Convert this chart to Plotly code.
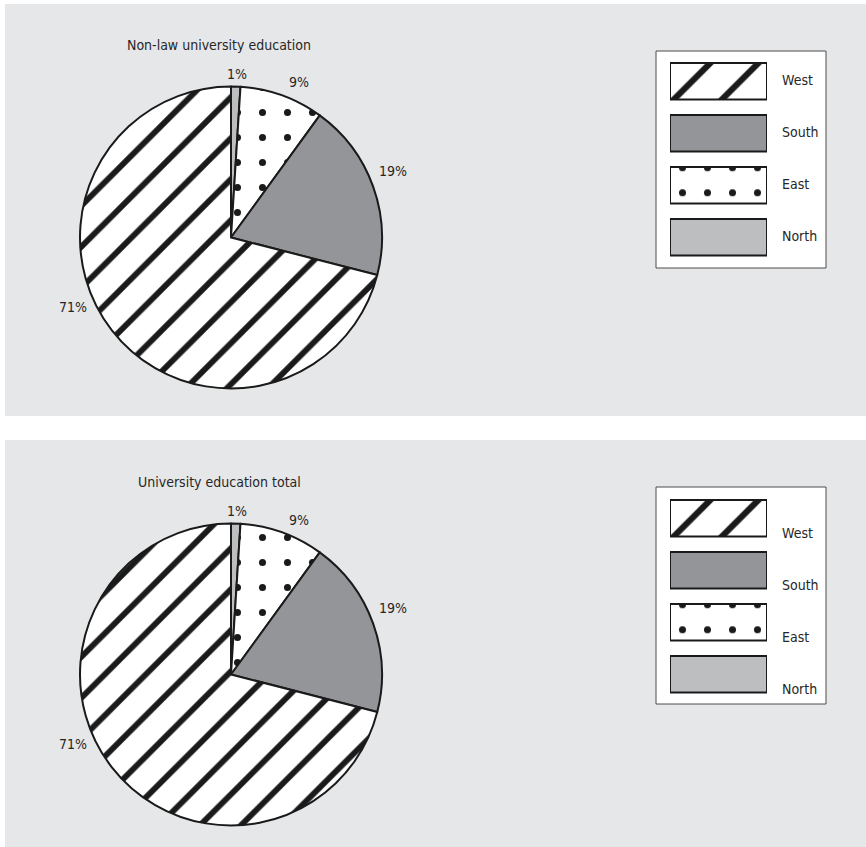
import plotly.graph_objects as go

W, H = 866, 847

# Shares by region (percent), listed clockwise from 12 o'clock
regions = ["North", "East", "South", "West"]
nonlaw_share = [1, 9, 19, 71]
total_share = [1, 9, 19, 71]

legend_regions = ["West", "South", "East", "North"]
panel_titles = ["Non-law university education", "University education total"]

# ---- styling -------------------------------------------------------------
BG = "#e6e7e8"
INK = "#1a1a1a"
TEXT = "#262626"
FONT = "DejaVu Sans Condensed, Liberation Sans Narrow, sans-serif"
FS = 14

slice_fill = {"West": BG, "South": "#939598", "East": BG, "North": "#bcbec0"}
swatch_fill = {"West": "white", "South": "#939598", "East": "white", "North": "#bcbec0"}
hatch = {"West": "/", "South": "", "East": ".", "North": ""}
pie_hatch_size = {"West": 29, "South": 8, "East": 25, "North": 8}
pie_hatch_solidity = {"West": 0.2, "South": 0.3, "East": 0.062, "North": 0.3}
key_hatch_size = {"West": 34, "South": 8, "East": 25, "North": 8}
key_hatch_solidity = {"West": 0.18, "South": 0.3, "East": 0.062, "North": 0.3}

# value-label offsets from the pie centre, in pixels
label_offset = {"North": (6, -164), "East": (68, -155), "South": (162, -67), "West": (-158, 69)}


def px(x):
    return x / W


def py(y):
    return 1 - y / H


panels = [
    dict(values=nonlaw_share, title=panel_titles[0], top=4, bottom=416,
         cx=231, cy=237.5, r=151, title_y=45,
         box=(656, 51, 826, 268), swatch_top=63, label_dy=-1),
    dict(values=total_share, title=panel_titles[1], top=440, bottom=847,
         cx=231, cy=674.5, r=151, title_y=482,
         box=(656, 487, 826, 704), swatch_top=500, label_dy=15),
]

fig = go.Figure()
shapes = []
annotations = []
layout_axes = {}

PITCH = 52.0
SWATCH_H = 36.5

for i, p in enumerate(panels):
    # panel background
    shapes.append(dict(type="rect", xref="paper", yref="paper", layer="below",
                       x0=px(5), x1=1, y0=py(p["bottom"]), y1=py(p["top"]),
                       fillcolor=BG, line=dict(width=0)))
    # legend box
    bx0, by0, bx1, by1 = p["box"]
    shapes.append(dict(type="rect", xref="paper", yref="paper", layer="below",
                       x0=px(bx0), x1=px(bx1), y0=py(by1), y1=py(by0),
                       fillcolor="white", line=dict(color="#4d4d4d", width=1)))

    # pie
    cx, cy, r = p["cx"], p["cy"], p["r"]
    fig.add_trace(go.Pie(
        labels=regions, values=p["values"], sort=False, direction="clockwise",
        rotation=0, textinfo="none", hoverinfo="label+percent", showlegend=False,
        domain=dict(x=[px(cx - r), px(cx + r)], y=[py(cy + r), py(cy - r)]),
        marker=dict(
            colors=[slice_fill[k] for k in regions],
            line=dict(color=INK, width=2),
            pattern=dict(
                shape=[hatch[k] for k in regions],
                size=[pie_hatch_size[k] for k in regions],
                solidity=[pie_hatch_solidity[k] for k in regions],
                fgcolor=INK, fgopacity=1, fillmode="replace",
            ),
        ),
    ))

    total = sum(p["values"])
    for k, v in zip(regions, p["values"]):
        dx, dy = label_offset[k]
        annotations.append(dict(
            xref="paper", yref="paper", x=px(cx + dx), y=py(cy + dy),
            xanchor="center", yanchor="middle", showarrow=False,
            text=f"{round(100 * v / total)}%",
            font=dict(family=FONT, size=FS, color=TEXT)))

    annotations.append(dict(
        xref="paper", yref="paper", x=px(219), y=py(p["title_y"]),
        xanchor="center", yanchor="middle", showarrow=False, text=p["title"],
        font=dict(family=FONT, size=FS, color=TEXT)))

    # legend swatches: one bar per region on a small dedicated axis pair
    ax = "" if i == 0 else str(i + 1)
    y_top = p["swatch_top"] - (PITCH - SWATCH_H) / 2
    y_bot = y_top + PITCH * len(legend_regions)
    layout_axes[f"xaxis{ax}"] = dict(domain=[px(670), px(767)], range=[0, 1],
                                     visible=False, fixedrange=True,
                                     anchor=f"y{ax}")
    layout_axes[f"yaxis{ax}"] = dict(domain=[py(y_bot), py(y_top)],
                                     range=[len(legend_regions) - 0.5, -0.5],
                                     type="category", categoryorder="array",
                                     categoryarray=legend_regions,
                                     visible=False, fixedrange=True,
                                     anchor=f"x{ax}")
    for k in legend_regions:
        pat = dict(shape=hatch[k], size=key_hatch_size[k],
                   solidity=key_hatch_solidity[k], fgcolor=INK, fgopacity=1,
                   bgcolor=swatch_fill[k], fillmode="replace")
        fig.add_trace(go.Bar(
            x=[1], y=[k], orientation="h", width=SWATCH_H / PITCH, offset=-SWATCH_H / PITCH / 2,
            xaxis=f"x{ax}", yaxis=f"y{ax}", showlegend=False, hoverinfo="y",
            marker=dict(color=swatch_fill[k], line=dict(color=INK, width=2),
                        pattern=pat if hatch[k] else None),
        ))
    for j, k in enumerate(legend_regions):
        yc = p["swatch_top"] + SWATCH_H / 2 + PITCH * j + p["label_dy"]
        annotations.append(dict(
            xref="paper", yref="paper", x=px(780), y=py(yc),
            xanchor="left", yanchor="middle", showarrow=False, text=k,
            font=dict(family=FONT, size=FS, color=TEXT)))

fig.update_layout(
    width=W, height=H, margin=dict(l=0, r=0, t=0, b=0),
    paper_bgcolor="white", plot_bgcolor="rgba(0,0,0,0)",
    shapes=shapes, annotations=annotations, barmode="overlay",
    **layout_axes,
)

fig.write_html("out.html", config={"displayModeBar": False})
